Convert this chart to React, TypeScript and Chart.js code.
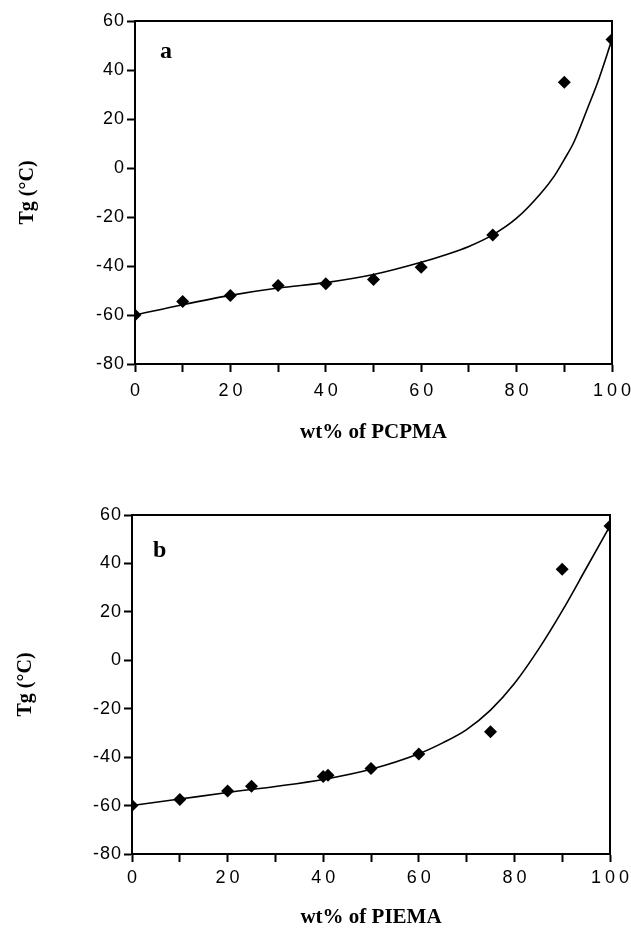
import React, { useEffect, useRef } from "react";
import { Chart, registerables } from "chart.js";

Chart.register(...registerables);

// ---- Data ----
// Panel a: PCPMA
const wtA = [0, 10, 20, 30, 40, 50, 60, 75, 90, 100];
const tgA = [-60, -54.5, -52, -48, -47.2, -45.5, -40.5, -27.3, 35, 52.5];
const fitXA = [0, 10, 20, 30, 40, 50, 60, 65, 70, 75, 80, 85, 88, 90, 92, 95, 97, 100];
const fitYA = [-60, -55.8, -52, -49, -46.8, -43.5, -38.5, -35.5, -32, -27.3, -20.5, -10.5, -3, 3.5, 10.5, 25, 35, 52.5];

// Panel b: PIEMA
const wtB = [0, 10, 20, 25, 40, 41, 50, 60, 75, 90, 100];
const tgB = [-60, -57.5, -54, -52, -48, -47.5, -44.7, -38.7, -29.5, 37.6, 55.5];
const fitXB = [0, 10, 20, 30, 40, 50, 60, 65, 70, 75, 80, 85, 90, 95, 100];
const fitYB = [-60, -57.3, -54.6, -52.1, -49.2, -45, -38.6, -34.1, -28.6, -20.6, -9.6, 4.4, 20.4, 37.9, 55.5];

const xTickLabels = ["0", "20", "40", "60", "80", "100"];
const yTicks = [60, 40, 20, 0, -20, -40, -60, -80];

type PanelProps = {
  top: number;
  height: number;
  areaTop: number;
  areaBottom: number;
  areaLeft: number;
  areaRight: number;
  xs: number[];
  ys: number[];
  fx: number[];
  fy: number[];
  letter: string;
  letterX: number;
  letterY: number;
  xTitle: string;
  yTitlePad: number;
  tickPad: number;
};

function spaceLabels(s: any, ls: number, shift: number) {
  if (!s || s.__ls) return;
  const orig = s.drawLabels.bind(s);
  s.drawLabels = (area: any) => {
    const ctx = s.ctx;
    ctx.save();
    ctx.translate(shift, 0);
    ctx.letterSpacing = ls + "px";
    orig(area);
    ctx.letterSpacing = "0px";
    ctx.restore();
  };
  s.__ls = true;
}

function Panel(p: PanelProps) {
  const ref = useRef<HTMLCanvasElement | null>(null);
  useEffect(() => {
    const canvas = ref.current!;
    const W = 631;
    const framePlugin = {
      id: "frame",
      afterLayout(chart: any) {
        spaceLabels(chart.scales.x, 4, 2);
        spaceLabels(chart.scales.y, 1, 1);
      },
      afterDraw(chart: any) {
        const { ctx, chartArea } = chart;
        ctx.save();
        ctx.strokeStyle = "#000";
        ctx.lineWidth = 2;
        ctx.strokeRect(chartArea.left, chartArea.top, chartArea.right - chartArea.left, chartArea.bottom - chartArea.top);
        ctx.fillStyle = "#000";
        ctx.font = "bold 24px 'Liberation Serif', serif";
        ctx.textBaseline = "alphabetic";
        ctx.fillText(p.letter, p.letterX, p.letterY - p.top);
        ctx.restore();
      },
    };
    const chart = new Chart(canvas, {
      type: "scatter",
      data: {
        datasets: [
          {
            type: "line",
            data: p.fx.map((x, i) => ({ x, y: p.fy[i] })),
            borderColor: "#000",
            borderWidth: 1.6,
            pointRadius: 0,
            cubicInterpolationMode: "monotone",
            fill: false,
          } as any,
          {
            data: p.xs.map((x, i) => ({ x, y: p.ys[i] })),
            pointStyle: "rectRot",
            pointRadius: 6.5,
            backgroundColor: "#000",
            borderColor: "#000",
            borderWidth: 0,
          },
        ],
      },
      options: {
        responsive: false,
        animation: false,
        events: [],
        layout: {
          padding: { top: p.areaTop, right: W - p.areaRight, left: 0, bottom: 0 },
        },
        plugins: { legend: { display: false }, tooltip: { enabled: false } },
        scales: {
          x: {
            type: "linear",
            min: 0,
            max: 100,
            afterFit: (s: any) => {
              s.height = p.height - p.areaBottom;
              s.paddingLeft = 0;
              s.paddingRight = 0;
            },
            afterBuildTicks: (s: any) => {
              const t = [];
              for (let v = 0; v <= 100; v += 10) t.push({ value: v });
              s.ticks = t;
            },
            ticks: {
              autoSkip: false,
              maxRotation: 0,
              padding: p.tickPad,
              color: "#000",
              font: { family: "'Liberation Sans', Arial, sans-serif", size: 18 },
              callback: (v: any) => (Number(v) % 20 === 0 ? xTickLabels[Number(v) / 20] : ""),
            },
            grid: { drawOnChartArea: false, tickLength: 8, tickWidth: 2, tickColor: "#000" },
            border: { display: true, color: "#000", width: 2 },
            title: {
              display: true,
              text: p.xTitle,
              color: "#000",
              font: { family: "'Liberation Serif', serif", size: 21, weight: "bold", lineHeight: 1.1 },
              padding: 0,
            },
          },
          y: {
            type: "linear",
            min: -80,
            max: 60,
            afterFit: (s: any) => {
              s.width = p.areaLeft;
              s.paddingTop = 0;
              s.paddingBottom = 0;
            },
            afterBuildTicks: (s: any) => {
              s.ticks = yTicks.map((v) => ({ value: v }));
            },
            ticks: {
              padding: 3,
              color: "#000",
              font: { family: "'Liberation Sans', Arial, sans-serif", size: 18 },
            },
            grid: { drawOnChartArea: false, tickLength: 8, tickWidth: 2, tickColor: "#000" },
            border: { display: true, color: "#000", width: 2 },
            title: {
              display: true,
              text: "Tg (°C)",
              color: "#000",
              font: { family: "'Liberation Serif', serif", size: 20, weight: "bold", lineHeight: 1.2 },
              padding: { top: p.yTitlePad, bottom: 0 },
            },
          },
        },
      },
      plugins: [framePlugin],
    } as any);
    return () => chart.destroy();
  }, []);
  return (
    <canvas
      ref={ref}
      width={631}
      height={p.height}
      style={{ position: "absolute", left: 0, top: p.top, width: 631, height: p.height, display: "block" }}
    />
  );
}

export default function App() {
  return (
    <div style={{ position: "absolute", left: 0, top: 0, width: 631, height: 929, background: "#fff", overflow: "hidden" }}>
      <Panel
        top={0}
        height={444}
        areaTop={21}
        areaBottom={364}
        areaLeft={135}
        areaRight={612}
        xs={wtA}
        ys={tgA}
        fx={fitXA}
        fy={fitYA}
        letter="a"
        letterX={160}
        letterY={58}
        xTitle="wt% of PCPMA"
        yTitlePad={16}
        tickPad={8}
      />
      <Panel
        top={460}
        height={469}
        areaTop={55}
        areaBottom={394}
        areaLeft={132}
        areaRight={610}
        xs={wtB}
        ys={tgB}
        fx={fitXB}
        fy={fitYB}
        letter="b"
        letterX={153}
        letterY={557}
        xTitle="wt% of PIEMA"
        yTitlePad={14}
        tickPad={5}
      />
    </div>
  );
}
